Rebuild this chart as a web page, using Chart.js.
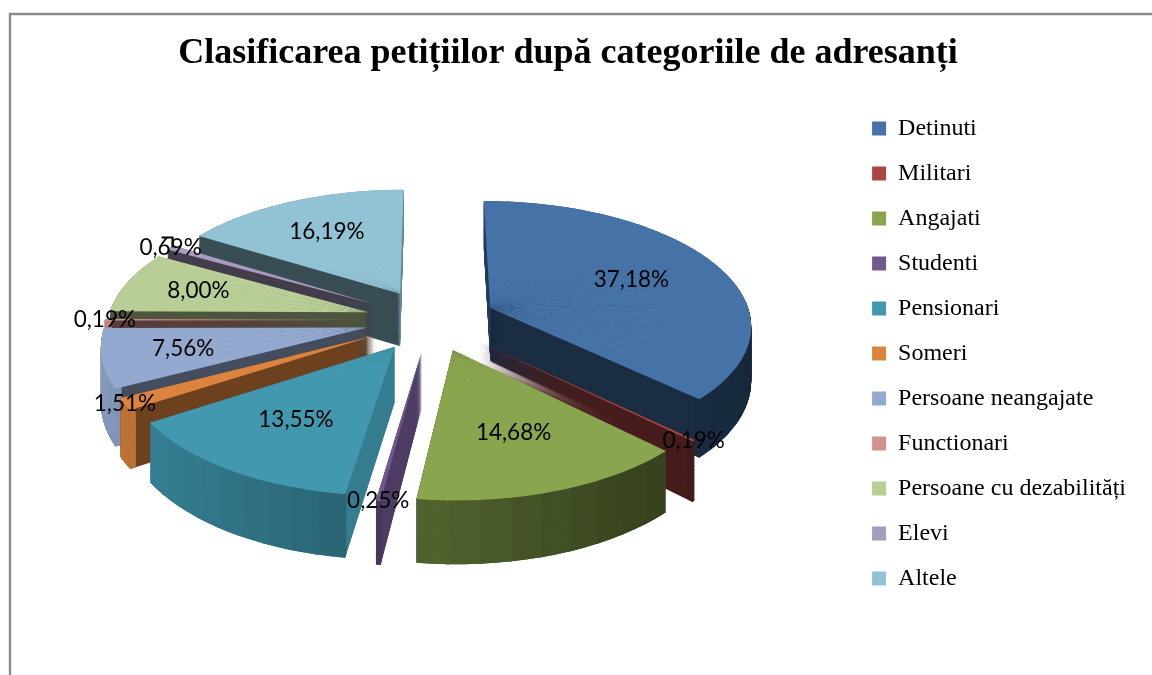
<!DOCTYPE html>
<html>
<head>
<meta charset="utf-8">
<style>html,body{margin:0;padding:0;background:#fff}canvas{display:block}</style>
<script src="https://cdn.jsdelivr.net/npm/chart.js@4"></script>
</head>
<body>
<canvas id="c" width="1152" height="675"></canvas>
<script>
const titleText = 'Clasificarea petițiilor după categoriile de adresanți';
const categories = ['Detinuti','Militari','Angajati','Studenti','Pensionari','Someri','Persoane neangajate','Functionari','Persoane cu dezabilități','Elevi','Altele'];
const values = [37.18,0.19,14.68,0.25,13.55,1.51,7.56,0.19,8.00,0.69,16.19];
const labels = ['37,18%','0,19%','14,68%','0,25%','13,55%','1,51%','7,56%','0,19%','8,00%','0,69%','16,19%'];
const colors = ['#4572a7','#aa4643','#89a54e','#71588f','#4198af','#db843d','#93a9cf','#d19392','#b9cd96','#a99bbd','#92c3d5'];
// shade factors for the two cut faces of each slice
const startFace = [.55,.42,.5,.82,.83,.5,.46,.42,.42,.4,.4];
const endFace   = [.40,.42,.5,.70,.70,.5,.46,.42,.42,.4,.72];
// label placement: radius ratio along the slice's mid-angle, plus a small nudge
const labelRadius = [.62,1.0,.62,1.0,.62,1.0,.7,1.0,.7,1.0,.65];
const labelNudgeX = [0,0,0,0,0,0,0,0,0,0,0];
const labelNudgeY = [0,0,0,0,0,0,0,0,0,0,0];

const view = {cx:431, cy:320, R:261, Ry:123.3, k:.1255, depth:54, explode:.25};
const project = (u,v,z)=>{const s=1/(1-view.k*v);return {x:view.cx+view.R*u*s,y:view.cy+(view.Ry*v+z)*s};};
const shade = (hex,f)=>{const n=parseInt(hex.slice(1),16);return `rgb(${Math.round((n>>16&255)*f)},${Math.round((n>>8&255)*f)},${Math.round((n&255)*f)})`;};
const wallShade = u=>{const pts=[[-1.3,.92],[-.1,.62],[.65,.42],[1.3,.36]];
  for(let i=1;i<pts.length;i++){if(u<=pts[i][0]){const t=(u-pts[i-1][0])/(pts[i][0]-pts[i-1][0]);return pts[i-1][1]+t*(pts[i][1]-pts[i-1][1]);}}return .36;};

function drawPiece(ctx,arc,a0,a1,inner,z,color,eu,ev){
  const A=project(eu,ev,z);
  const p1=project(eu+Math.cos(a0),ev+Math.sin(a0),z), p2=project(eu+Math.cos(a1),ev+Math.sin(a1),z);
  const r=arc.outerRadius;
  const lx1=r*Math.cos(a0),ly1=r*Math.sin(a0),lx2=r*Math.cos(a1),ly2=r*Math.sin(a1);
  const det=lx1*ly2-lx2*ly1;
  const ix1=p1.x-A.x,iy1=p1.y-A.y,ix2=p2.x-A.x,iy2=p2.y-A.y;
  const a=(ix1*ly2-ix2*ly1)/det, c=(ix2*lx1-ix1*lx2)/det;
  const b=(iy1*ly2-iy2*ly1)/det, d=(iy2*lx1-iy1*lx2)/det;
  ctx.save();
  ctx.transform(a,b,c,d,A.x-a*arc.x-c*arc.y,A.y-b*arc.x-d*arc.y);
  const saved={s:arc.startAngle,e:arc.endAngle,c:arc.circumference,i:arc.innerRadius,o:arc.options};
  arc.startAngle=a0;arc.endAngle=a1;arc.circumference=a1-a0;arc.innerRadius=inner;
  arc.options={backgroundColor:color,borderColor:color,borderWidth:0,borderAlign:'center',offset:0,spacing:0,circular:true,borderRadius:0,borderJoinStyle:'round'};
  arc.draw(ctx);
  arc.startAngle=saved.s;arc.endAngle=saved.e;arc.circumference=saved.c;arc.innerRadius=saved.i;arc.options=saved.o;
  ctx.restore();
}
const pie3d={
  id:'pie3d',
  beforeDraw(chart){
    const ctx=chart.ctx;ctx.save();
    ctx.fillStyle='#fff';ctx.fillRect(0,0,chart.width,chart.height);
    ctx.strokeStyle='#8c8c8c';ctx.lineWidth=2.4;
    ctx.beginPath();ctx.moveTo(10,chart.height+4);ctx.lineTo(10,14);ctx.lineTo(chart.width+4,14);ctx.stroke();
    ctx.restore();
  },
  beforeDatasetsDraw(chart){
    const ctx=chart.ctx, arcs=chart.getDatasetMeta(0).data;
    const order=arcs.map((arc,i)=>i).sort((p,q)=>{
      const mp=(arcs[p].startAngle+arcs[p].endAngle)/2,mq=(arcs[q].startAngle+arcs[q].endAngle)/2;
      return Math.sin(mp)-Math.sin(mq);});
    const step=Math.PI/30, ov=.004, dz=.7;
    order.forEach(i=>{
      const arc=arcs[i],s=arc.startAngle,e=arc.endAngle,mid=(s+e)/2;
      const eu=view.explode*Math.cos(mid),ev=view.explode*Math.sin(mid);
      const n=Math.max(1,Math.ceil((e-s)/step)),da=(e-s)/n;
      const hist=[];
      for(let j=0;j<n;j++)hist.push([s+j*da,s+(j+1)*da]);
      // extruded body (cut faces)
      for(let z=view.depth;z>0;z-=dz){
        hist.forEach(([a,b],j)=>{
          const f=(a+b)/2<mid?startFace[i]:endFace[i];
          drawPiece(ctx,arc,Math.max(s,a-ov),Math.min(e,b+ov),0,z,shade(colors[i],f),eu,ev);
        });
      }
      // outer wall, only where it faces the viewer
      hist.forEach(([a,b])=>{
        const m=(a+b)/2;
        if(Math.sin(m)<-.02)return;
        const col=shade(colors[i],wallShade(eu+Math.cos(m)));
        for(let z=view.depth;z>0;z-=dz){
          drawPiece(ctx,arc,Math.max(s,a-ov),Math.min(e,b+ov),arc.outerRadius*.975,z,col,eu,ev);
        }
      });
      // top face
      hist.forEach(([a,b])=>drawPiece(ctx,arc,Math.max(s,a-ov),Math.min(e,b+ov),0,0,colors[i],eu,ev));
    });
    // value labels
    ctx.save();
    ctx.font='22.5px Lato';ctx.fillStyle='#000';ctx.textAlign='center';ctx.textBaseline='middle';
    arcs.forEach((arc,i)=>{
      const mid=(arc.startAngle+arc.endAngle)/2,lr=labelRadius[i];
      const eu=view.explode*Math.cos(mid),ev=view.explode*Math.sin(mid);
      const p=project(eu+lr*Math.cos(mid),ev+lr*Math.sin(mid),0);
      ctx.fillText(labels[i],p.x+labelNudgeX[i],p.y+labelNudgeY[i]);
    });
    // leader for the Elevi label
    const el=arcs[9],m=(el.startAngle+el.endAngle)/2;
    const q=project(view.explode*Math.cos(m)+Math.cos(m),view.explode*Math.sin(m)+Math.sin(m),0);
    ctx.strokeStyle='#000';ctx.lineWidth=2;ctx.beginPath();
    ctx.moveTo(q.x+2,q.y);ctx.lineTo(q.x+2,q.y-10);ctx.lineTo(q.x-9,q.y-10);ctx.stroke();
    ctx.restore();
    return false;
  }
};
new Chart(document.getElementById('c'),{
  type:'pie',
  data:{labels:categories,datasets:[{data:values,backgroundColor:colors,borderWidth:0}]},
  plugins:[pie3d],
  options:{
    responsive:false,animation:false,rotation:0,
    layout:{padding:{top:32,right:16,left:0,bottom:0}},
    plugins:{
      tooltip:{enabled:false},
      title:{display:true,text:titleText,color:'#000',font:{family:'"Liberation Serif"',size:36,weight:'bold'},padding:{top:0,bottom:40}},
      legend:{position:'right',labels:{boxWidth:14,boxHeight:14,padding:21,color:'#000',font:{family:'"Liberation Serif"',size:24}}}
    }
  }
});
</script>
</body>
</html>
